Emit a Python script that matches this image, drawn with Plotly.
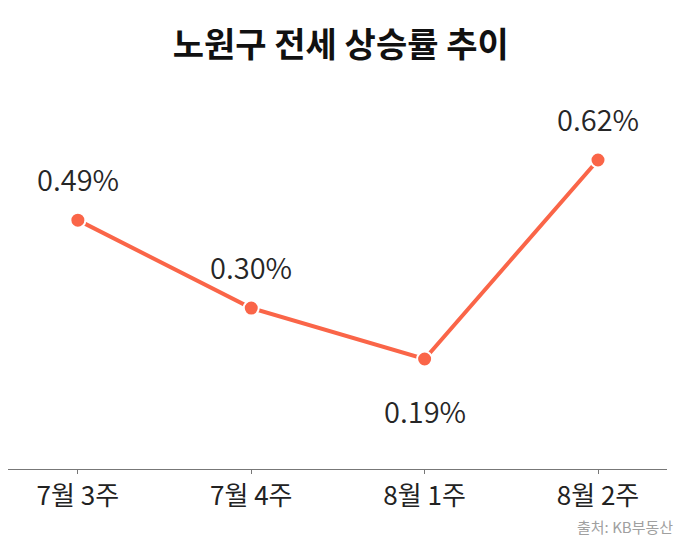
import plotly.graph_objects as go

categories = ["7월 3주", "7월 4주", "8월 1주", "8월 2주"]
values = [0.49, 0.30, 0.19, 0.62]
labels = ["0.49%", "0.30%", "0.19%", "0.62%"]
label_side = [1, 1, -1, 1]

FONT = "Noto Sans CJK KR"
LINE = "#FA6548"

fig = go.Figure()
fig.add_trace(go.Scatter(
    x=categories, y=values, mode="lines+markers",
    line=dict(color=LINE, width=4),
    marker=dict(color=LINE, size=15, line=dict(color="white", width=2)),
    hoverinfo="skip",
))

for c, v, t, s in zip(categories, values, labels, label_side):
    fig.add_annotation(x=c, y=v, text=t, showarrow=False,
                       yshift=42 if s > 0 else -51,
                       font=dict(family=FONT, size=29, color="#262626", weight=350))

fig.add_annotation(xref="paper", yref="paper", x=1.012, y=-0.152,
                   xanchor="right", yanchor="middle", showarrow=False,
                   text="출처: KB부동산",
                   font=dict(family=FONT, size=15, color="#a0a0a0"))

fig.update_layout(
    width=675, height=540,
    margin=dict(l=0, r=16, t=80, b=79),
    paper_bgcolor="white", plot_bgcolor="white",
    showlegend=False,
    title=dict(text="<b>노원구 전세 상승률 추이</b>", x=0.493, xanchor="center",
               xref="container", y=1 - 37 / 540, yanchor="middle",
               font=dict(family=FONT, size=34, color="#111111")),
    xaxis=dict(type="category", range=[-0.403, 3.398], showgrid=False,
               showline=True, linecolor="#777777", linewidth=1.2,
               ticks="outside", ticklen=4, tickcolor="#777777",
               tickfont=dict(family=FONT, size=26, color="#222222"),
               zeroline=False, fixedrange=True),
    yaxis=dict(range=[-0.0476, 0.7755], visible=False, showgrid=False,
               zeroline=False, fixedrange=True),
)

fig.write_html("out.html")
